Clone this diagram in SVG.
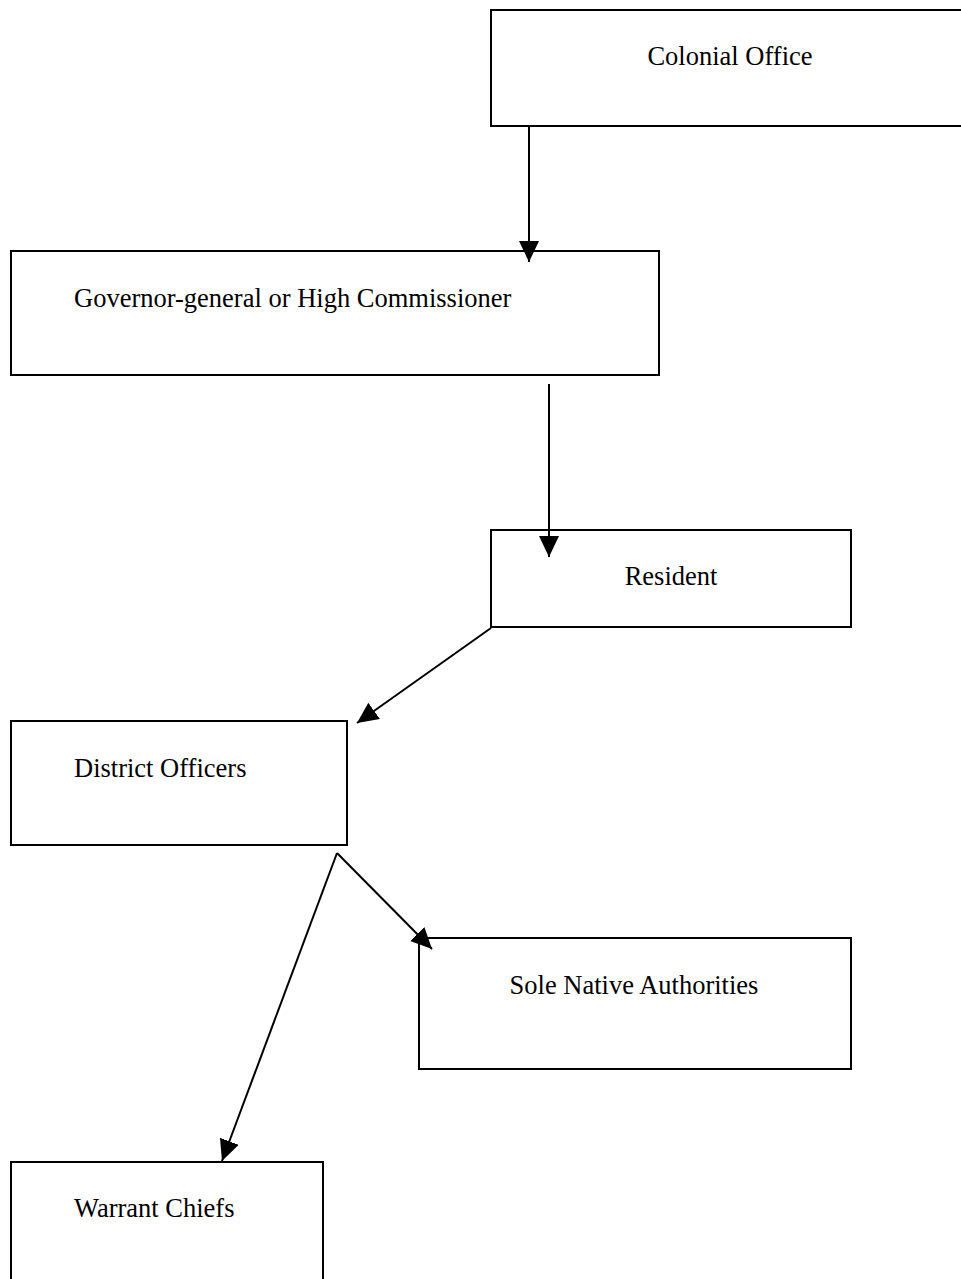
<svg xmlns="http://www.w3.org/2000/svg" width="961" height="1279" viewBox="0 0 961 1279">
  <style>
    .box { fill: #ffffff; stroke: #000000; stroke-width: 2; }
    .lbl { font-family: "Liberation Serif", "Times New Roman", serif; font-size: 26.5px; fill: #000000; }
    .edge { fill: none; stroke: #000000; stroke-width: 2; }
  </style>
  <defs>
    <marker id="arrow" markerUnits="userSpaceOnUse" markerWidth="22" markerHeight="22" refX="21" refY="10" orient="auto">
      <path d="M0,0 L21,10 L0,20 Z" fill="#000000"/>
    </marker>
  </defs>
  <rect width="961" height="1279" fill="#ffffff"/>

  <g id="colonial-office">
    <rect class="box" x="491" y="10" width="480" height="116"/>
    <text class="lbl" x="730" y="65" text-anchor="middle">Colonial Office</text>
  </g>

  <g id="governor-general">
    <rect class="box" x="11" y="251" width="648" height="124"/>
    <text class="lbl" x="74" y="307">Governor-general or High Commissioner</text>
  </g>

  <g id="resident">
    <rect class="box" x="491" y="530" width="360" height="97"/>
    <text class="lbl" x="671" y="585" text-anchor="middle">Resident</text>
  </g>

  <g id="district-officers">
    <rect class="box" x="11" y="721" width="336" height="124"/>
    <text class="lbl" x="74" y="777">District Officers</text>
  </g>

  <g id="sole-native-authorities">
    <rect class="box" x="419" y="938" width="432" height="131"/>
    <text class="lbl" x="634" y="994" text-anchor="middle">Sole Native Authorities</text>
  </g>

  <g id="warrant-chiefs">
    <rect class="box" x="11" y="1162" width="312" height="130"/>
    <text class="lbl" x="74" y="1217">Warrant Chiefs</text>
  </g>

  <g id="connectors">
    <line class="edge" x1="529" y1="126" x2="529" y2="262" marker-end="url(#arrow)"/>
    <line class="edge" x1="549" y1="384" x2="549" y2="557" marker-end="url(#arrow)"/>
    <line class="edge" x1="491" y1="628" x2="357" y2="723" marker-end="url(#arrow)"/>
    <line class="edge" x1="337" y1="853" x2="432" y2="949" marker-end="url(#arrow)"/>
    <line class="edge" x1="337" y1="853" x2="222" y2="1161" marker-end="url(#arrow)"/>
  </g>
</svg>
